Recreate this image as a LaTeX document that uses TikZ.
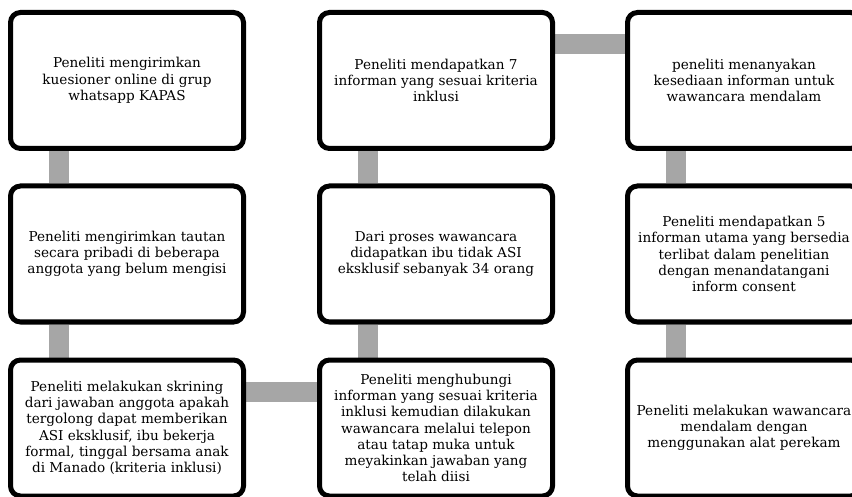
\documentclass[tikz,border=0pt]{standalone}
\usepackage{fontspec}
\setmainfont{DejaVu Serif}
\usetikzlibrary{backgrounds}

\begin{document}
\begin{tikzpicture}[x = 1pt, y = -1pt, font=\fontsize{13.6}{16.3}\selectfont]
	\definecolor{barGrey}{HTML}{A6A6A6}
	\tikzstyle{stepBox}=[shape = rectangle, rounded corners = 10pt, draw, line width = 5pt, fill = white, minimum width = 233pt, minimum height = 136pt, align = center, inner sep = 2pt]
	\tikzstyle{barLine}=[draw = barGrey, line width = 20pt]
	\useasboundingbox (0,0) rectangle (852,497);
	\clip (0,0) rectangle (852,497);
	\node[stepBox] (s1) at (127, 80.5) {Peneliti mengirimkan\\kuesioner online di grup\\whatsapp KAPAS};
	\node[stepBox] (s2) at (127, 254) {Peneliti mengirimkan tautan\\secara pribadi di beberapa\\anggota yang belum mengisi};
	\node[stepBox] (s3) at (127, 428) {Peneliti melakukan skrining\\dari jawaban anggota apakah\\tergolong dapat memberikan\\ASI eksklusif, ibu bekerja\\formal, tinggal bersama anak\\di Manado (kriteria inklusi)};
	\node[stepBox] (s4) at (436, 428) {Peneliti menghubungi\\informan yang sesuai kriteria\\inklusi kemudian dilakukan\\wawancara melalui telepon\\atau tatap muka untuk\\meyakinkan jawaban yang\\telah diisi};
	\node[stepBox] (s5) at (436, 254) {Dari proses wawancara\\didapatkan ibu tidak ASI\\eksklusif sebanyak 34 orang};
	\node[stepBox] (s6) at (436, 80.5) {Peneliti mendapatkan 7\\informan yang sesuai kriteria\\inklusi};
	\node[stepBox] (s7) at (744, 80.5) {peneliti menanyakan\\kesediaan informan untuk\\wawancara mendalam};
	\node[stepBox] (s8) at (744, 254) {Peneliti mendapatkan 5\\informan utama yang bersedia\\terlibat dalam penelitian\\dengan menandatangani\\inform consent};
	\node[stepBox] (s9) at (744, 428) {Peneliti melakukan wawancara\\mendalam dengan\\menggunakan alat perekam};
	% grey bars behind the boxes
	\begin{scope}[on background layer]
	\draw[barLine] ([xshift = -68.5pt]s1.south) -- ([xshift = -68.5pt]s2.north);
	\draw[barLine] ([xshift = -68.5pt]s2.south) -- ([xshift = -68.5pt]s3.north);
	\draw[barLine] ([yshift = 36pt]s3.east) -- ([yshift = 36pt]s4.west);
	\draw[barLine] ([xshift = -68.5pt]s4.north) -- ([xshift = -68.5pt]s5.south);
	\draw[barLine] ([xshift = -68.5pt]s5.north) -- ([xshift = -68.5pt]s6.south);
	\draw[barLine] ([yshift = 36.5pt]s6.east) -- ([yshift = 36.5pt]s7.west);
	\draw[barLine] ([xshift = -68.5pt]s7.south) -- ([xshift = -68.5pt]s8.north);
	\draw[barLine] ([xshift = -68.5pt]s8.south) -- ([xshift = -68.5pt]s9.north);
	\end{scope}
\end{tikzpicture}
\end{document}
